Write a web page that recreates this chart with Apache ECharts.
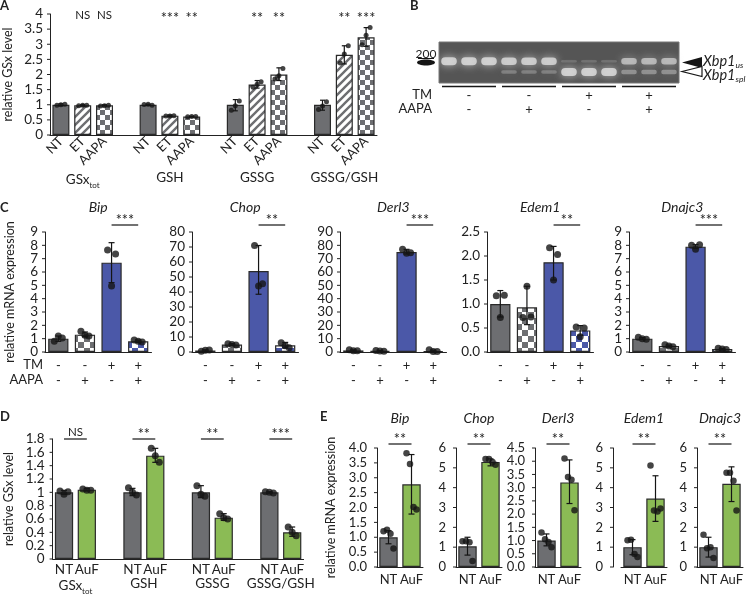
<!DOCTYPE html>
<html><head><meta charset="utf-8">
<script src="https://cdn.jsdelivr.net/npm/echarts@6/dist/echarts.min.js"></script>
<style>html,body{margin:0;padding:0;background:#fff}#c{width:747px;height:595px}</style>
</head><body><div id="c"></div>
<script>
// ---------------- DATA ----------------
// Panel A
const aCats = ['NT','ET','AAPA','', 'NT','ET','AAPA','', 'NT','ET','AAPA','', 'NT','ET','AAPA'];
const aGroups = ['GSx','GSH','GSSG','GSSG/GSH'];
const aGroupSubs = ['tot','','',''];
const aMeans = [1.0,0.98,0.98,null, 1.0,0.64,0.61,null, 1.0,1.67,2.0,null, 1.0,2.65,3.23];
const aDots = [[0.98,1.0,1.02],[0.97,0.98,0.98],[0.96,0.97,0.98],[],
  [1.01,1.02,0.98],[0.63,0.63,0.64],[0.6,0.61,0.61],[],
  [0.82,0.97,1.12],[1.58,1.68,1.76],[1.85,1.96,2.2],[],
  [0.84,0.96,1.1],[2.38,2.68,2.95],[2.98,3.3,3.55]];
const aErrLow  = [0.97,0.96,0.96,null, 0.98,0.62,0.6,null, 0.8,1.55,1.8,null, 0.82,2.35,2.93];
const aErrHigh = [1.03,1.0,1.0,null, 1.02,0.66,0.62,null, 1.17,1.8,2.22,null, 1.15,2.95,3.55];
const aSig = ['', 'NS','NS','', '', '***','**','', '', '**','**','', '', '**','***'];
const aTicks = ['0','0.5','1','1.5','2','2.5','3','3.5','4'];

// Panel B (gel)
const gelUs  = [1,1,1, 0.95,0.95,0.95, 0.1,0.1,0.1, 0.75,0.75,0.75];
const gelSpl = [0,0,0, 0.25,0.25,0.25, 1,1,1, 0.4,0.4,0.4];
const gelBandPos = [0.47, 0.73];
const gelTM   = ['-','-','+','+'];
const gelAAPA = ['-','+','-','+'];
const gelRowNames = ['TM','AAPA'];
const gelMarker = '200';
const gelBandNames = ['Xbp1','Xbp1'];
const gelBandSubs = ['us','spl'];

// Panel C
const cGenes = ['Bip','Chop','Derl3','Edem1','Dnajc3'];
const cTM   = ['-','-','+','+'];
const cAAPA = ['-','+','-','+'];
const cRowNames = ['TM','AAPA'];
const cTicks = [
  ['0','1','2','3','4','5','6','7','8','9'],
  ['0','10','20','30','40','50','60','70','80'],
  ['0','10','20','30','40','50','60','70','80','90'],
  ['0.0','0.5','1.0','1.5','2.0','2.5'],
  ['0','1','2','3','4','5','6','7','8','9']
];
const cMeans = [[1.0,1.3,6.7,0.8],[1.0,5.0,54,4.5],[1.2,0.8,75,0.7],[1.0,0.93,1.87,0.45],[1.0,0.45,7.9,0.22]];
const cDots = [
  [[0.8,1.2,1.05],[1.55,1.25,1.2],[7.65,4.95,7.35],[0.9,0.8,0.75]],
  [[0.5,1.2,1.3],[5.5,5.0,4.6],[71,44,45.5],[6.2,4.2,2.8]],
  [[1.6,1.0,1.0],[1.1,0.7,0.6],[77,74,74.5],[1.6,0.3,0.4]],
  [[1.17,0.72,1.18],[0.72,1.37,0.73],[2.17,1.5,2.03],[0.52,0.32,0.5]],
  [[1.1,1.0,0.95],[0.55,0.45,0.4],[8.0,7.7,8.05],[0.28,0.22,0.18]]
];
const cErrLow  = [[0.8,1.15,5.2,0.72],[0.5,4.5,38.5,2.6],[0.7,0.5,73.5,0.1],[0.73,0.57,1.5,0.35],[0.95,0.4,7.75,0.17]];
const cErrHigh = [[1.2,1.5,8.2,0.9],[1.5,5.6,71,6.4],[1.6,1.1,77,1.4],[1.28,1.37,2.2,0.55],[1.08,0.52,8.05,0.27]];
const cSig = ['***','**','***','**','***'];

// Panel D
const dCats = ['NT','AuF','','NT','AuF','','NT','AuF','','NT','AuF'];
const dGroups = ['GSx','GSH','GSSG','GSSG/GSH'];
const dGroupSubs = ['tot','','',''];
const dMeans = [1.0,1.04,null, 1.0,1.55,null, 1.0,0.62,null, 1.0,0.4];
const dDots = [[1.02,0.97,1.01],[1.05,1.03,1.03],[], [1.07,1.0,0.96],[1.66,1.55,1.45],[],
  [1.1,0.97,0.94],[0.68,0.62,0.6],[], [1.01,1.0,0.99],[0.48,0.4,0.35]];
const dErrLow  = [0.97,1.02,null, 0.95,1.45,null, 0.92,0.58,null, 0.99,0.34];
const dErrHigh = [1.03,1.06,null, 1.06,1.66,null, 1.1,0.68,null, 1.01,0.48];
const dSig = [[0,1,'NS'],[3,4,'**'],[6,7,'**'],[9,10,'***']];
const dTicks = ['0','0.2','0.4','0.6','0.8','1','1.2','1.4','1.6','1.8'];

// Panel E
const eGenes = ['Bip','Chop','Derl3','Edem1','Dnajc3'];
const eCats = ['NT','AuF'];
const eTicks = [
  ['0.0','0.5','1.0','1.5','2.0','2.5','3.0','3.5','4.0'],
  ['0','1','2','3','4','5','6'],
  ['0.0','0.5','1.0','1.5','2.0','2.5','3.0','3.5','4.0','4.5'],
  ['0','1','2','3','4','5','6'],
  ['0','1','2','3','4','5','6']
];
const eMeans = [[1.0,2.78],[1.04,5.3],[1.0,3.2],[1.0,3.45],[1.0,4.2]];
const eDots = [
  [[1.2,1.25,1.12,0.62],[3.82,3.46,2.02,1.93]],
  [[1.3,1.3,1.25,0.3],[5.45,5.45,5.3,5.15]],
  [[1.3,1.05,0.95,0.75],[4.1,3.4,3.3,2.15]],
  [[1.35,1.38,0.65,0.5],[5.12,2.85,2.8,2.95]],
  [[1.62,0.95,1.0,0.45],[4.75,4.75,4.35,2.85]]
];
const eErrLow  = [[0.78,1.78],[0.6,5.1],[0.8,2.4],[0.62,2.3],[0.5,3.3]];
const eErrHigh = [[1.22,3.78],[1.5,5.45],[1.25,4.05],[1.38,4.6],[1.5,5.05]];
const eSig = ['**','**','**','**','**'];
const yLabelGSx = 'relative GSx level';
const yLabelMRNA = 'relative mRNA expression';
const panelLetters = ['A','B','C','D','E'];

// ---------------- STYLE / LAYOUT ----------------
const FONT = 'Lato, "Noto Sans", sans-serif';
const GRAY = '#6d6e71', BLUE = '#4b58a8', GREEN = '#8bbb55', EDGE = '#2a2a2a', INK = '#151515', TXT = '#222';

function stripes(fg, bg) {
  const s = 8, c = document.createElement('canvas'); c.width = s; c.height = s;
  const g = c.getContext('2d'); g.fillStyle = bg; g.fillRect(0,0,s,s);
  g.strokeStyle = fg; g.lineWidth = 2.4; g.beginPath();
  g.moveTo(-2, s+2); g.lineTo(s+2, -2);
  g.moveTo(-2, 2); g.lineTo(2, -2);
  g.moveTo(s-2, s+2); g.lineTo(s+2, s-2);
  g.stroke();
  return {image: c, repeat: 'repeat'};
}
function checker(fg, bg, s) {
  const c = document.createElement('canvas'); c.width = 2*s; c.height = 2*s;
  const g = c.getContext('2d'); g.fillStyle = bg; g.fillRect(0,0,2*s,2*s);
  g.fillStyle = fg; g.fillRect(0,0,s,s); g.fillRect(s,s,s,s);
  return {image: c, repeat: 'repeat'};
}
const P = {
  gray: GRAY, grayStripe: stripes(GRAY,'#fff'), grayCheckA: checker(GRAY,'#fff',5),
  grayCheckC: checker(GRAY,'#fff',6), blue: BLUE, blueCheck: checker(BLUE,'#fff',6), green: GREEN
};

const grid = [], xAxis = [], yAxis = [], series = [], graphic = [];
const add = (arr, o) => { arr.push(o); return arr.length - 1; };
const axLine = {show: true, lineStyle: {color: '#222', width: 1}};

// y axis: line drawn by ECharts, tick marks + labels drawn by a custom series (from tick label arrays)
function valY(gi, ticks, extra) {
  const vals = ticks.map(Number);
  return add(yAxis, Object.assign({
    type: 'value', gridIndex: gi, min: vals[0], max: vals[vals.length - 1],
    axisLine: axLine, axisTick: {show: false}, splitLine: {show: false}, axisLabel: {show: false}
  }, extra || {}));
}
function tickS(xi, yi, ticks, fs, margin, offset) {
  series.push({type: 'custom', xAxisIndex: xi, yAxisIndex: yi, z: 6, silent: true,
    data: ticks.map(t => [0, Number(t)]),
    renderItem: (p, api) => {
      const c = api.coord([0, api.value(1)]);
      const x0 = c[0] - api.size([1, 0])[0] / 2 - (offset || 0);
      return {type: 'group', children: [
        {type: 'line', shape: {x1: x0 - 3, y1: c[1], x2: x0, y2: c[1]}, style: {stroke: '#222', lineWidth: 1}},
        {type: 'text', x: x0 - margin, y: c[1],
          style: {text: ticks[p.dataIndex], font: fs + 'px ' + FONT, fill: TXT,
            align: 'right', textAlign: 'right', verticalAlign: 'middle', textVerticalAlign: 'middle'}}
      ]};
    }});
}
function yName(text, gap) {
  return {name: text, nameLocation: 'middle', nameGap: gap,
    nameTextStyle: {fontFamily: FONT, fontSize: 12.5, color: TXT}};
}
function barS(xi, yi, means, colors, width) {
  series.push({type: 'bar', xAxisIndex: xi, yAxisIndex: yi, barWidth: width, z: 2,
    itemStyle: {borderColor: EDGE, borderWidth: 1.2},
    data: means.map((v, i) => v == null ? '-' : {value: v, itemStyle: {color: colors[i]}})});
}
function errS(xi, yi, lows, highs, cap) {
  const data = [];
  lows.forEach((l, i) => { if (l != null) data.push([i, l, highs[i]]); });
  series.push({type: 'custom', xAxisIndex: xi, yAxisIndex: yi, z: 3, data: data,
    renderItem: (p, api) => {
      const lo = api.coord([api.value(0), api.value(1)]);
      const hi = api.coord([api.value(0), api.value(2)]);
      const st = {stroke: INK, lineWidth: 1.2};
      return {type: 'group', children: [
        {type: 'line', shape: {x1: lo[0], y1: lo[1], x2: hi[0], y2: hi[1]}, style: st},
        {type: 'line', shape: {x1: hi[0]-cap, y1: hi[1], x2: hi[0]+cap, y2: hi[1]}, style: st},
        {type: 'line', shape: {x1: lo[0]-cap, y1: lo[1], x2: lo[0]+cap, y2: lo[1]}, style: st}
      ]};
    }});
}
function dotS(xi, yi, dots, size, offs) {
  const data = [];
  dots.forEach((arr, i) => arr.forEach((v, k) => data.push({value: [i, v], symbolOffset: [offs[k] || 0, 0]})));
  series.push({type: 'scatter', xAxisIndex: xi, yAxisIndex: yi, z: 4, symbolSize: size,
    itemStyle: {color: INK}, data: data});
}
function sigS(xi, yi, items, yTop, lift, withLine, fs) {
  series.push({type: 'custom', xAxisIndex: xi, yAxisIndex: yi, z: 5,
    data: items.map(t => [t[0], t[1]]),
    renderItem: (p, api) => {
      const it = items[p.dataIndex];
      const a = api.coord([it[0], yTop]), b = api.coord([it[1], yTop]);
      const y = a[1] - lift;
      const isStar = it[2].indexOf('*') >= 0;
      const ch = [{type: 'text', x: (a[0]+b[0])/2, y: withLine ? (isStar ? y + 3 : y - 1) : (isStar ? y + 3 : y),
        style: {text: it[2], font: (isStar ? fs + 3 : fs) + 'px ' + FONT, fill: TXT,
          align: 'center', textAlign: 'center',
          verticalAlign: withLine ? 'bottom' : 'middle', textVerticalAlign: withLine ? 'bottom' : 'middle'}}];
      if (withLine) ch.push({type: 'line', shape: {x1: a[0], y1: y, x2: b[0], y2: y}, style: {stroke: INK, lineWidth: 1.2}});
      return {type: 'group', children: ch};
    }});
}
function txt(x, y, text, font, align, valign, extra) {
  graphic.push(Object.assign({type: 'text', x: x, y: y, silent: true,
    style: {text: text, font: font, fill: TXT, align: align, textAlign: align,
      verticalAlign: valign, textVerticalAlign: valign}}, extra || {}));
}
const maxOf = t => Number(t[t.length - 1]);

// ---------------- PANEL A ----------------
const gA = add(grid, {left: 50, top: 14, width: 327, height: 121});
const xA = add(xAxis, {type: 'category', gridIndex: gA, position: 'bottom', data: aCats, axisLine: axLine,
  axisTick: {show: false},
  axisLabel: {interval: 0, rotate: 45, margin: 4, fontSize: 13, fontFamily: FONT, color: TXT}});
add(xAxis, {type: 'category', gridIndex: gA, position: 'bottom', data: aCats.map((c, i) => 'g' + i),
  axisLine: {show: false}, axisTick: {show: false},
  axisLabel: {interval: 0, margin: 36,
    formatter: (v, i) => {
      if (i % 4 !== 1) return '';
      const g = (i - 1) / 4;
      return '{n|' + aGroups[g] + '}' + (aGroupSubs[g] ? '{s|' + aGroupSubs[g] + '}' : '');
    },
    rich: {n: {fontSize: 13.5, fontFamily: FONT, color: TXT},
      s: {fontSize: 8, fontFamily: FONT, color: TXT, padding: [10, 0, 0, 0]}}}});
const yA = valY(gA, aTicks, yName(yLabelGSx, 36));
const aColors = aCats.map(c => c === 'NT' ? P.gray : c === 'ET' ? P.grayStripe : P.grayCheckA);
barS(xA, yA, aMeans, aColors, '78%');
errS(xA, yA, aErrLow, aErrHigh, 2.5);
dotS(xA, yA, aDots, 5, [-4, 0, 4]);
sigS(xA, yA, aSig.map((s, i) => [i, i, s]).filter(t => t[2]), maxOf(aTicks), -1, false, 11.5);
tickS(xA, yA, aTicks, 13.5, 7, 0);

// ---------------- PANEL B (gel) ----------------
const gB = add(grid, {left: 439, top: 42, width: 240, height: 41, show: true,
  backgroundColor: '#555', borderColor: '#777', borderWidth: 1});
const xBl = add(xAxis, {type: 'category', gridIndex: gB, position: 'bottom', show: false,
  data: gelUs.map((_, i) => 'L' + (i + 1))});
const xBg = add(xAxis, {type: 'category', gridIndex: gB, position: 'bottom',
  data: gelTM.map((t, i) => t + '\n' + gelAAPA[i]),
  axisLine: {show: false}, axisTick: {show: false},
  axisLabel: {interval: 0, margin: 6, lineHeight: 14, fontSize: 13, fontFamily: FONT, color: TXT}});
const yB = add(yAxis, {type: 'value', gridIndex: gB, min: 0, max: 1, inverse: true, show: false});
const bandData = [];
gelUs.forEach((v, i) => { if (v > 0) bandData.push([i, gelBandPos[0], v]); });
gelSpl.forEach((v, i) => { if (v > 0) bandData.push([i, gelBandPos[1], v]); });
series.push({type: 'custom', xAxisIndex: xBl, yAxisIndex: yB, z: 2, data: bandData,
  renderItem: (p, api) => {
    const c = api.coord([api.value(0), api.value(1)]);
    const w = api.size([1, 0])[0] * 0.78;
    const k = api.value(2);
    const h = 2 + 6 * k;
    return {type: 'rect', shape: {x: c[0] - w/2, y: c[1] - h/2, width: w, height: h, r: h/2},
      style: {fill: 'rgba(225,225,225,' + (0.12 + 0.7 * k) + ')',
        shadowBlur: 9, shadowColor: 'rgba(215,215,215,' + (0.95 * k) + ')'}};
  }});
series.push({type: 'custom', xAxisIndex: xBg, yAxisIndex: yB, z: 2, data: gelTM.map((_, i) => [i, 1]),
  renderItem: (p, api) => {
    const c = api.coord([api.value(0), 1]);
    const w = api.size([1, 0])[0];
    return {type: 'line', shape: {x1: c[0] - w/2 + 3, y1: c[1] + 3.5, x2: c[0] + w/2 - 3, y2: c[1] + 3.5},
      style: {stroke: INK, lineWidth: 1.5}};
  }});
txt(432, 95, gelRowNames[0], '13px ' + FONT, 'right', 'middle');
txt(432, 109, gelRowNames[1], '13px ' + FONT, 'right', 'middle');
txt(426, 54, gelMarker, '12px ' + FONT, 'center', 'middle');
graphic.push({type: 'line', shape: {x1: 418, y1: 58.5, x2: 434, y2: 58.5}, style: {stroke: INK, lineWidth: 1}});
graphic.push({type: 'ellipse', shape: {cx: 426, cy: 62.5, rx: 9, ry: 3}, style: {fill: INK}});
graphic.push({type: 'polygon', shape: {points: [[682, 62.5], [702, 57], [702, 68]]}, style: {fill: INK}});
graphic.push({type: 'polygon', shape: {points: [[682, 71.5], [702, 66.5], [702, 76.5]]}, style: {fill: '#fff', stroke: INK, lineWidth: 1.2}});
[0, 1].forEach(k => {
  graphic.push({type: 'text', x: 703, y: k === 0 ? 61 : 75, silent: true,
    style: {text: '{a|' + gelBandNames[k] + '}{b|' + gelBandSubs[k] + '}', verticalAlign: 'middle', textVerticalAlign: 'middle',
      rich: {a: {fontSize: 14.5, fontStyle: 'italic', fontFamily: FONT, fill: TXT, color: TXT},
        b: {fontSize: 8.5, fontStyle: 'italic', fontFamily: FONT, fill: TXT, color: TXT, padding: [9, 0, 0, 0]}}}});
});

// ---------------- PANEL C ----------------
const cLefts = [45, 192, 340, 487, 629];
const cW = 106.5, cTop = 232, cH = 120;
cGenes.forEach((gene, g) => {
  const gi = add(grid, {left: cLefts[g], top: cTop, width: cW, height: cH});
  const xi = add(xAxis, {type: 'category', gridIndex: gi, position: 'bottom',
    data: cTM.map((t, i) => t + '\n' + cAAPA[i]), axisLine: axLine, axisTick: {show: false},
    axisLabel: {interval: 0, margin: 6, lineHeight: 15, fontSize: 13, fontFamily: FONT, color: TXT}});
  const yi = valY(gi, cTicks[g], g === 0 ? yName(yLabelMRNA, 29) : {});
  barS(xi, yi, cMeans[g], [P.gray, P.grayCheckC, P.blue, P.blueCheck], '76%');
  errS(xi, yi, cErrLow[g], cErrHigh[g], 3);
  dotS(xi, yi, cDots[g], 7, [-4, 0, 4]);
  sigS(xi, yi, [[2, 3, cSig[g]]], maxOf(cTicks[g]), 7, true, 11.5);
  tickS(xi, yi, cTicks[g], 13.5, 7, 0);
  txt(cLefts[g] + cW / 2, 207, gene, 'italic 14px ' + FONT, 'center', 'middle');
});
txt(43, 365, cRowNames[0], '13px ' + FONT, 'right', 'middle');
txt(43, 380, cRowNames[1], '13px ' + FONT, 'right', 'middle');

// ---------------- PANEL D ----------------
const gD = add(grid, {left: 52.6, top: 439, width: 251, height: 121});
const xD = add(xAxis, {type: 'category', gridIndex: gD, position: 'bottom', data: dCats, axisLine: axLine,
  axisTick: {show: false},
  axisLabel: {interval: 0, margin: 4, fontSize: 13.5, fontFamily: FONT, color: TXT}});
add(xAxis, {type: 'value', gridIndex: gD, position: 'bottom', min: 0, max: dCats.length,
  axisLine: {show: false}, axisTick: {show: false}, splitLine: {show: false},
  axisLabel: {margin: 18, customValues: dGroups.map((_, g) => 3 * g + 1),
    formatter: v => {
      const g = Math.round((v - 1) / 3);
      if (g < 0 || g >= dGroups.length) return '';
      return '{n|' + dGroups[g] + '}' + (dGroupSubs[g] ? '{s|' + dGroupSubs[g] + '}' : '');
    },
    rich: {n: {fontSize: 13.5, fontFamily: FONT, color: TXT},
      s: {fontSize: 8, fontFamily: FONT, color: TXT, padding: [10, 0, 0, 0]}}}});
const yD = valY(gD, dTicks, yName(yLabelGSx, 37));
barS(xD, yD, dMeans, dCats.map(c => c === 'NT' ? P.gray : P.green), '80%');
errS(xD, yD, dErrLow, dErrHigh, 3);
dotS(xD, yD, dDots, 7, [-4, 0, 4]);
sigS(xD, yD, dSig, maxOf(dTicks), 0, true, 11.5);
tickS(xD, yD, dTicks, 13.5, 8, 0);

// ---------------- PANEL E ----------------
const eLefts = [377, 456, 535, 621, 697];
const eW = 46, eTop = 448, eH = 119;
eGenes.forEach((gene, g) => {
  const gi = add(grid, {left: eLefts[g], top: eTop, width: eW, height: eH});
  const xi = add(xAxis, {type: 'category', gridIndex: gi, position: 'bottom', data: eCats, axisLine: axLine,
    axisTick: {show: false},
    axisLabel: {interval: 0, margin: 6, fontSize: 13, fontFamily: FONT, color: TXT}});
  const off = g === 3 ? 8 : 0;
  const extra = g === 0 ? yName(yLabelMRNA, 40) : (off ? {offset: off} : {});
  const yi = valY(gi, eTicks[g], extra);
  barS(xi, yi, eMeans[g], [P.gray, P.green], '80%');
  errS(xi, yi, eErrLow[g], eErrHigh[g], 3);
  dotS(xi, yi, eDots[g], 6.5, [-5, -1.5, 2, 5]);
  sigS(xi, yi, [[0, 1, eSig[g]]], maxOf(eTicks[g]), 4, true, 11.5);
  tickS(xi, yi, eTicks[g], 13, 10, off);
  txt(eLefts[g] + eW / 2, 418, gene, 'italic 14px ' + FONT, 'center', 'middle');
});

// ---------------- PANEL LETTERS ----------------
const letterPos = [[0, 6], [410, 6], [0, 208], [0, 417], [320, 417]];
panelLetters.forEach((l, i) => txt(letterPos[i][0], letterPos[i][1], l, 'bold 13px ' + FONT, 'left', 'middle'));

const chart = echarts.init(document.getElementById('c'), null, {renderer: 'canvas', width: 747, height: 595});
chart.setOption({animation: false, backgroundColor: '#fff', grid, xAxis, yAxis, series, graphic});
</script></body></html>
